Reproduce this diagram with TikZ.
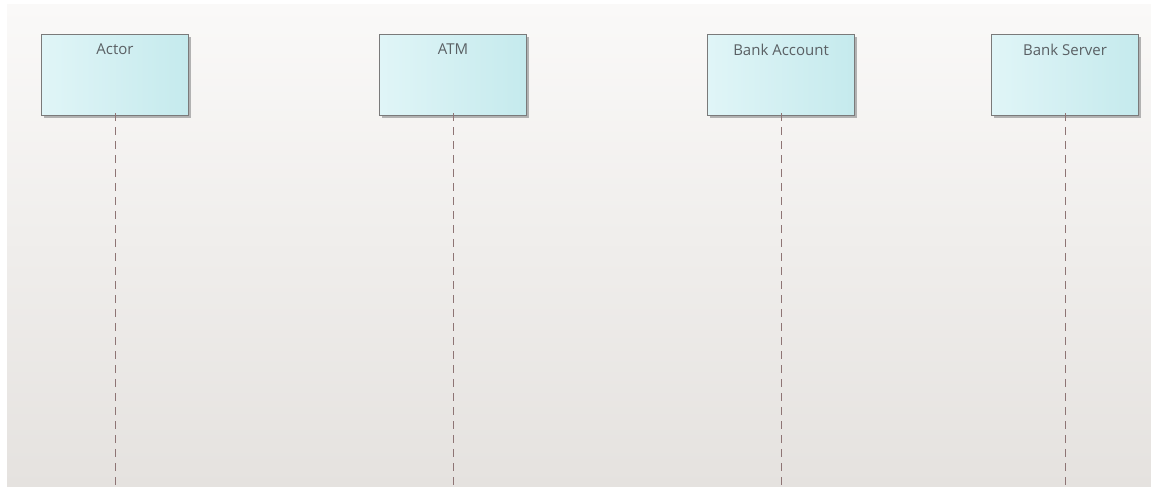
\documentclass[tikz,border=0pt]{standalone}
\usepackage{fontspec}
\setmainfont{Open Sans}
\begin{document}
\begin{tikzpicture}[x=1pt,y=-1pt,
  lifebox/.style={draw=black!52, line width=1.1pt, left color=boxL, right color=boxR,
    minimum width=147pt, minimum height=81pt, inner sep=0pt, anchor=north west},
  lifeline/.style={draw=lineclr, line width=0.9pt, dash pattern=on 8pt off 6pt},
  lbl/.style={font=\fontsize{15}{17}\selectfont, text=textgrey, anchor=north, inner sep=0pt}]
\definecolor{boxL}{HTML}{E0F5F7}
\definecolor{boxR}{HTML}{C5EAED}
\definecolor{textgrey}{HTML}{5A6064}
\definecolor{lineclr}{HTML}{8E7474}
\definecolor{bgtop}{HTML}{FAF9F8}
\definecolor{bgbot}{HTML}{E5E2DF}
\useasboundingbox (0,0) rectangle (1151,487);
\fill[white] (0,0) rectangle (1151,487);
\shade[top color=bgtop, bottom color=bgbot] (7,5) rectangle (1151,487);
% shadows
\foreach \x in {41,379,707,991}{
  \fill[black!30] (\x+3,37) rectangle (\x+150,118);
}
\node[lifebox] (actor) at (41,34) {};
\node[lifebox] (atm) at (379,34) {};
\node[lifebox] (acct) at (707,34) {};
\node[lifebox] (server) at (991,34) {};
\node[lbl] (tactor) at ([yshift=-9.5pt]actor.north) {Actor};
\node[lbl] (tatm) at ([yshift=-9.5pt]atm.north) {ATM};
\node[lbl] (tacct) at ([yshift=-9.5pt]acct.north) {Bank Account};
\node[lbl] (tserver) at ([yshift=-9.5pt]server.north) {Bank Server};
\coordinate (eactor) at (actor.south |- 0,487);
\coordinate (eatm) at (atm.south |- 0,487);
\coordinate (eacct) at (acct.south |- 0,487);
\coordinate (eserver) at (server.south |- 0,487);
\draw[lifeline] ([yshift=3pt]actor.south) -- (eactor);
\draw[lifeline] ([yshift=3pt]atm.south) -- (eatm);
\draw[lifeline] ([yshift=3pt]acct.south) -- (eacct);
\draw[lifeline] ([yshift=3pt]server.south) -- (eserver);
\end{tikzpicture}
\end{document}
